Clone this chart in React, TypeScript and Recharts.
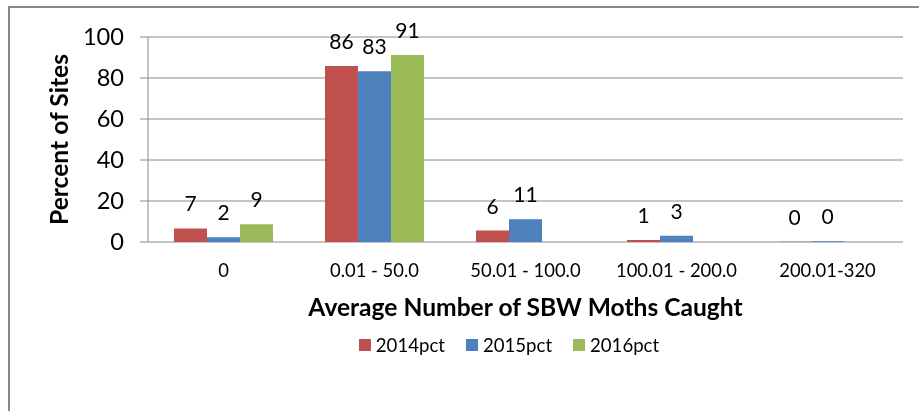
import React from 'react';
import { BarChart, Bar, XAxis, YAxis, CartesianGrid, Legend, LabelList } from 'recharts';

const categories = ['0', '0.01 - 50.0', '50.01 - 100.0', '100.01 - 200.0', '200.01-320'];
const pct2014 = [6.6, 85.9, 5.6, 1.0, 0.1];
const pct2015 = [2.3, 83.3, 11.1, 3.1, 0.4];
const pct2016: (number | null)[] = [8.6, 91.2, null, null, null];
const yTicks = [0, 20, 40, 60, 80, 100];
const edgeTicks = [0, 1, 2, 3, 4, 5];

const seriesNames = ['2014pct', '2015pct', '2016pct'];
const seriesColors = ['#C0504D', '#4F81BD', '#9BBB59'];

const data = categories.map((c, i) => ({
  cat: c,
  p14: pct2014[i],
  p15: pct2015[i],
  p16: pct2016[i],
}));

const FONT = 'Lato, "Open Sans", sans-serif';
const GRID = '#8a8a8a';

const fmt = (v: any) => (v == null ? '' : String(Math.round(Number(v))));

const LegendContent = (props: any) => {
  const payload = props.payload || [];
  return (
    <div style={{ display: 'flex', justifyContent: 'center', alignItems: 'center', height: 14, fontFamily: FONT, fontSize: 18.6, color: '#000' }}>
      {payload.map((p: any, i: number) => (
        <div key={i} style={{ display: 'flex', alignItems: 'center', marginRight: i < payload.length - 1 ? 21 : 0 }}>
          <span style={{ display: 'inline-block', width: 12, height: 12, background: p.color, marginRight: 5 }} />
          <span style={{ lineHeight: '14px' }}>{p.value}</span>
        </div>
      ))}
    </div>
  );
};

export default function App() {
  return (
    <div style={{ position: 'relative', width: 911, height: 403, fontFamily: FONT }}>
      <div
        style={{
          position: 'fixed',
          left: 8,
          top: 6,
          width: 1000,
          height: 1000,
          border: '2px solid #878787',
          boxSizing: 'border-box',
          pointerEvents: 'none',
        }}
      />
      <BarChart
        width={911}
        height={403}
        data={data}
        margin={{ top: 29, right: 16, bottom: 129, left: 0 }}
        barGap={0}
        barSize={33}
      >
        <CartesianGrid xAxisId="cat" vertical={false} stroke={GRID} strokeWidth={1} />
        <XAxis
          xAxisId="edges"
          type="number"
          domain={[0, 5]}
          ticks={edgeTicks}
          tickFormatter={() => ''}
          tickSize={6}
          height={0}
          axisLine={{ stroke: GRID }}
          tickLine={{ stroke: GRID }}
        />
        <XAxis
          xAxisId="cat"
          dataKey="cat"
          height={40}
          axisLine={false}
          tickLine={false}
          tickSize={0}
          tickMargin={22}
          interval={0}
          tick={{ fill: '#000', fontSize: 18.4, fontFamily: FONT }}
          label={{
            value: 'Average Number of SBW Moths Caught',
            position: 'bottom',
            offset: 17,
            style: { fill: '#000', fontSize: 24.6, fontWeight: 700, fontFamily: FONT },
          }}
        />
        <YAxis
          width={140}
          domain={[0, 100]}
          ticks={yTicks}
          interval={0}
          tickSize={8}
          tickMargin={16}
          axisLine={{ stroke: GRID }}
          tickLine={{ stroke: GRID }}
          tick={{ fill: '#000', fontSize: 23.6, fontFamily: FONT }}
          label={{
            value: 'Percent of Sites',
            angle: -90,
            position: 'center',
            dx: -19,
            style: { fill: '#000', fontSize: 24.6, fontWeight: 700, fontFamily: FONT, textAnchor: 'middle' },
          }}
        />
        <Legend
          layout="horizontal"
          verticalAlign="middle"
          align="center"
          content={LegendContent}
          wrapperStyle={{ position: 'absolute', top: 330, left: 0, width: 1002 }}
        />
        {['p14', 'p15', 'p16'].map((k, i) => (
          <Bar key={k} xAxisId="cat" dataKey={k} name={seriesNames[i]} fill={seriesColors[i]} isAnimationActive={false}>
            <LabelList
              dataKey={k}
              position="top"
              offset={17}
              formatter={fmt}
              style={{ fill: '#000', fontSize: 21, fontFamily: FONT }}
            />
          </Bar>
        ))}
      </BarChart>
    </div>
  );
}
